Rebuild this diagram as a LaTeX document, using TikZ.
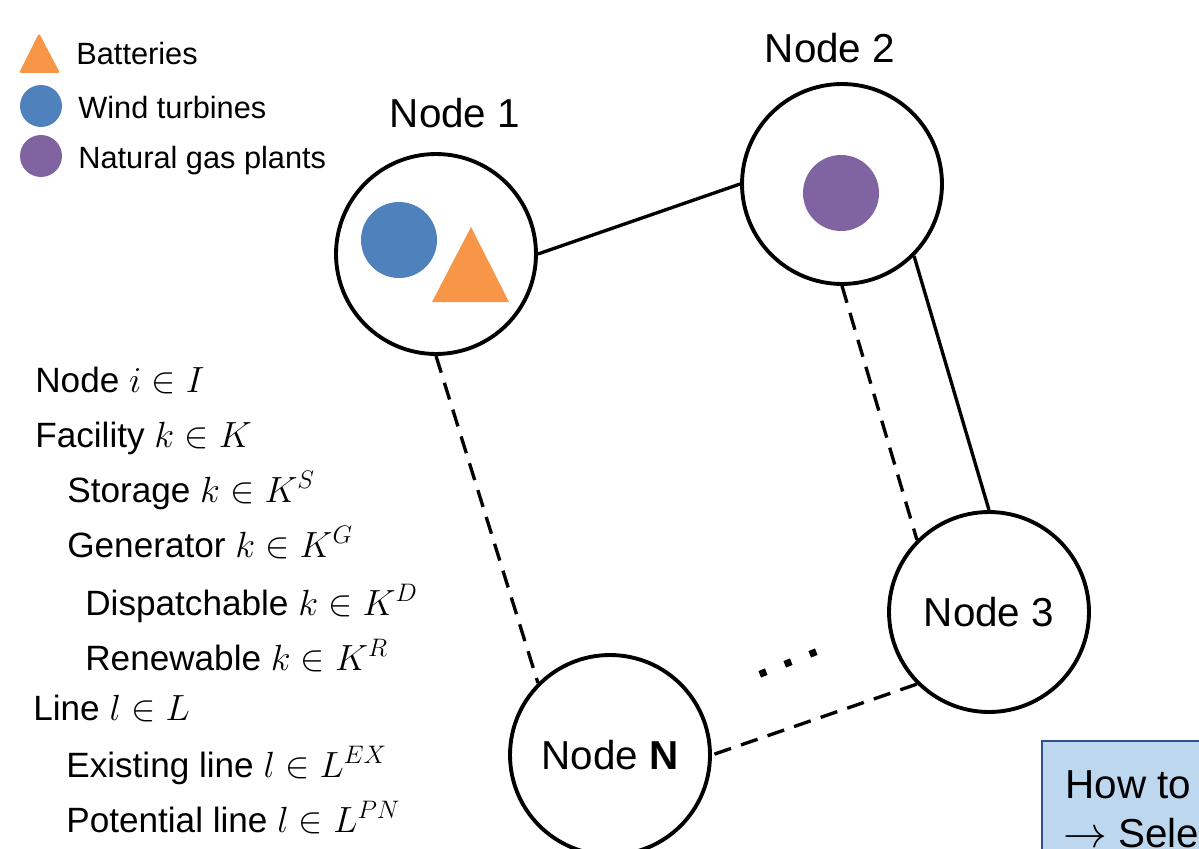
\documentclass[tikz,border=0pt]{standalone}
\usepackage{fontspec}
\setmainfont{Liberation Sans}
\usetikzlibrary{positioning}
\definecolor{netorange}{HTML}{F79646}
\definecolor{netblue}{HTML}{4F81BD}
\definecolor{netpurple}{HTML}{8064A2}
\definecolor{netnotefill}{HTML}{BDD7EE}
\definecolor{netnotedraw}{HTML}{2F528F}
\tikzset{
  netbus/.style={
    circle,
    draw=black,
    line width=2.2pt,
    minimum size=4cm,
    inner sep=0pt,
    font=\fontsize{23}{27}\selectfont
  },
  netlabel/.style={font=\fontsize{23}{27}\selectfont},
  netexist/.style={line width=1.9pt},
  netcand/.style={line width=1.9pt,dash pattern=on 10pt off 6pt},
  netlegend/.style={anchor=base west,inner sep=0pt,font=\fontsize{17.5}{21}\selectfont},
  netset/.style={anchor=base west,inner sep=0pt,font=\fontsize{20}{24}\selectfont},
  netnote/.style={draw=netnotedraw,fill=netnotefill,line width=1.5pt},
  nettext/.style={anchor=base west,inner sep=0pt,font=\fontsize{23}{27}\selectfont}
}

\begin{document}
\begin{tikzpicture}[x=0.02cm,y=-0.02cm]
  \clip (0,0) rectangle (1199,848);

  % legend
  \fill[netorange,rounded corners=1pt] (39,33) -- (19,73) -- (60,73) -- cycle;
  \node[netlegend] (legbat) at (76,65) {Batteries};
  \fill[netblue] (41,106) circle (21);
  \node[netlegend] (legwind) at (78,118) {Wind turbines};
  \fill[netpurple] (41,156) circle (21);
  \node[netlegend] (leggas) at (78,168) {Natural gas plants};

  % buses
  \node[netbus] (n1) at (436,254) {};
  \node[netbus] (n2) at (842,184) {};
  \node[netbus] (n3) at (989,612) {Node 3};
  \node[netbus] (nN) at (610,755) {Node \textbf{N}};
  \node[netlabel] (n1lbl) at (455,113) {Node 1};
  \node[netlabel] (n2lbl) at (830,48) {Node 2};

  % facilities
  \fill[netblue] (399,240) circle (38);
  \fill[netorange] (471,227) -- (432,302) -- (509,302) -- cycle;
  \fill[netpurple] (841,193) circle (38);

  % lines
  \draw[netexist] (n1.east) -- (n2.west);
  \draw[netexist] (n2.-45) -- (n3.north);
  \draw[netcand] (n2.south) -- (n3.135);
  \draw[netcand] (n1.south) -- (nN.135);
  \draw[netcand] (n3.225) -- (nN.east);
  \foreach \dx/\dy in {763/673,788/663,813/653}
    \fill[shift={(\dx,\dy)},rotate=22] (-3.5,-3.5) rectangle (3.5,3.5);

  % sets
  \node[netset] (setnode) at (35,392) {Node $i \in I$};
  \node[netset] (setfac) at (35,447) {Facility $k \in K$};
  \node[netset] (setsto) at (67,502) {Storage $k \in K^{S}$};
  \node[netset] (setgen) at (67,557) {Generator $k \in K^{G}$};
  \node[netset] (setdis) at (85,615) {Dispatchable $k \in K^{D}$};
  \node[netset] (setren) at (85,670) {Renewable $k \in K^{R}$};
  \node[netset] (setline) at (33,720) {Line $l \in L$};
  \node[netset] (setex) at (66,777) {Existing line $l \in L^{EX}$};
  \node[netset] (setpn) at (66,832) {Potential line $l \in L^{PN}$};

  % note box
  \draw[netnote] (1042,741) rectangle (1240,900);
  \node[nettext] (howto) at (1065,798) {How to};
  \node[nettext] (howsel) at (1063,847) {$\rightarrow$ Sele};
\end{tikzpicture}
\end{document}
